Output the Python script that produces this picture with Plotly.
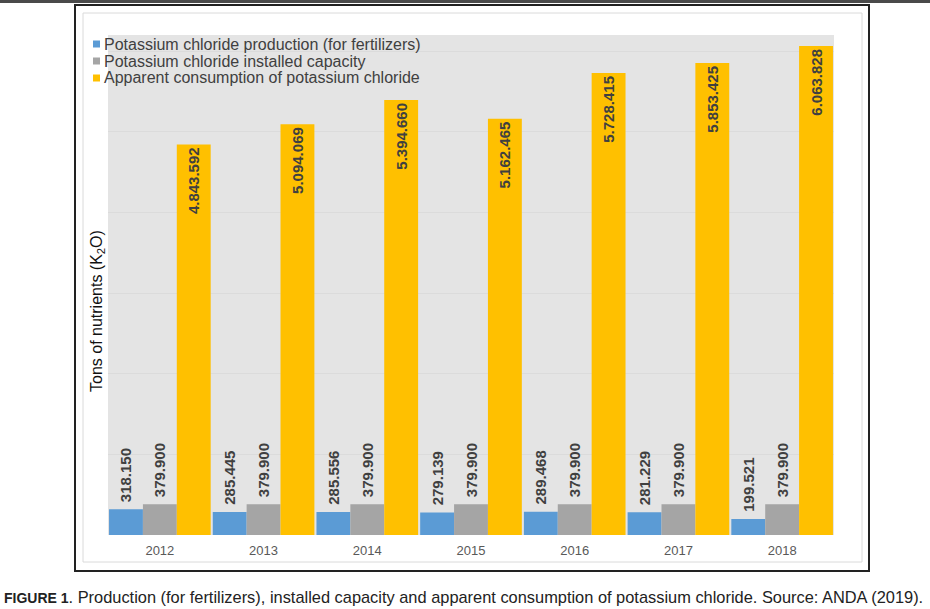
import plotly.graph_objects as go

years = ["2012", "2013", "2014", "2015", "2016", "2017", "2018"]
production = [318150, 285445, 285556, 279139, 289468, 281229, 199521]
capacity = [379900, 379900, 379900, 379900, 379900, 379900, 379900]
consumption = [4843592, 5094069, 5394660, 5162465, 5728415, 5853425, 6063828]

series_names = [
    "Potassium chloride production (for fertilizers)",
    "Potassium chloride installed capacity",
    "Apparent consumption of potassium chloride",
]
colors = ["#5B9BD5", "#A5A5A5", "#FFC000"]
y_title = "Tons of nutrients (K<sub>2</sub>O)"
caption = ("<b><span style='font-size:14px'>FIGURE 1</span></b>. "
           "Production (for fertilizers), installed capacity and apparent consumption of "
           "potassium chloride. Source: ANDA (2019).")

W, H = 930, 609
L, R, T, B = 108, 834, 35, 535  # plot area in px


def px(x):
    return (x - L) / (R - L)


def py(y):
    return (B - y) / (B - T)


fig = go.Figure()
label_font = dict(family="Liberation Sans, Arial", size=15, color="#404040")
for vals, name, col, pos in zip([production, capacity, consumption], series_names, colors,
                                ["outside", "outside", "inside"]):
    tmpl = "<b>%{y:,.0f}</b>" if pos == "inside" else "\u00a0<b>%{y:,.0f}</b>"
    fig.add_trace(go.Bar(
        x=years, y=vals, name=name, marker=dict(color=col, line=dict(width=0)),
        texttemplate=tmpl, textposition=pos, textangle=-90,
        insidetextanchor="end", constraintext="none", cliponaxis=False,
        textfont=label_font, insidetextfont=label_font, outsidetextfont=label_font,
        showlegend=False,
    ))

shapes = [
    # top dark band
    dict(type="rect", xref="paper", yref="paper", x0=px(-5), x1=px(W + 5), y0=py(3), y1=py(-5),
         fillcolor="#4A4A4A", line=dict(width=0), layer="above"),
    # outer black frame
    dict(type="rect", xref="paper", yref="paper", x0=px(75), x1=px(869), y0=py(571), y1=py(5),
         line=dict(color="#222222", width=2), fillcolor="rgba(0,0,0,0)"),
    # inner light border
    dict(type="rect", xref="paper", yref="paper", x0=px(83), x1=px(862), y0=py(562), y1=py(13),
         line=dict(color="#DADADA", width=1), fillcolor="rgba(0,0,0,0)"),
]
annotations = []
leg_y = [44, 61, 78]
for name, col, yy in zip(series_names, colors, leg_y):
    shapes.append(dict(type="rect", xref="paper", yref="paper", x0=px(93), x1=px(100),
                       y0=py(yy + 3.5), y1=py(yy - 3.5), fillcolor=col, line=dict(width=0),
                       layer="above"))
    annotations.append(dict(text=name, xref="paper", yref="paper", x=px(102), y=py(yy),
                            xanchor="left", yanchor="middle", showarrow=False,
                            font=dict(family="Liberation Sans, Arial", size=16, color="#404040")))
annotations.append(dict(text=y_title, xref="paper", yref="paper", x=px(97), y=py(311),
                        xanchor="center", yanchor="middle", showarrow=False, textangle=-90,
                        font=dict(family="Liberation Sans, Arial", size=16, color="#111111")))
annotations.append(dict(text=caption, xref="paper", yref="paper", x=px(2), y=py(597),
                        xanchor="left", yanchor="middle", showarrow=False,
                        font=dict(family="Liberation Sans, Arial", size=16.4, color="#222222")))

fig.update_layout(
    width=W, height=H,
    margin=dict(l=L, r=W - R, t=T, b=H - B, pad=0),
    paper_bgcolor="white", plot_bgcolor="#E4E4E4",
    barmode="group", bargap=0.02, bargroupgap=0,
    separators=",.",
    shapes=shapes, annotations=annotations,
    font=dict(family="Liberation Sans, Arial", color="#404040"),
    xaxis=dict(showgrid=False, showline=False, ticks="", zeroline=False,
               ticklabelstandoff=6, tickfont=dict(size=13, color="#595959")),
    yaxis=dict(range=[0, 6.2e6], dtick=1e6, showticklabels=False, ticks="", showline=False,
               gridcolor="#DBDBDB", gridwidth=1, zeroline=False),
)

fig.write_html("out.html")
